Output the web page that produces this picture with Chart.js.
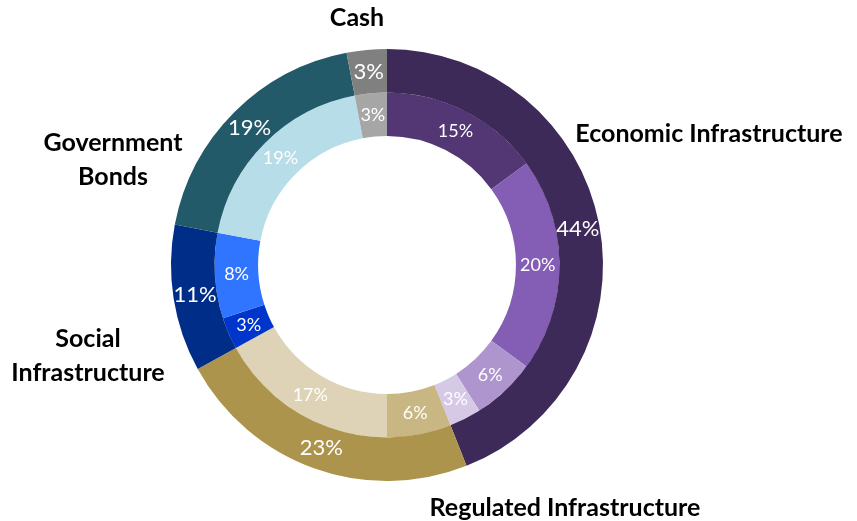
<!DOCTYPE html>
<html>
<head>
<meta charset="utf-8">
<script src="https://cdn.jsdelivr.net/npm/chart.js@4/dist/chart.umd.min.js"></script>
<style>
  html, body { margin: 0; padding: 0; background: #fff; }
  #wrap { width: 857px; height: 521px; position: relative; }
</style>
</head>
<body>
<div id="wrap"><canvas id="alloc"></canvas></div>
<script>
// Outer ring: sectors
var sectorNames = ['Economic Infrastructure', 'Regulated Infrastructure', 'Social Infrastructure', 'Government Bonds', 'Cash'];
var sectorValues = [44, 23, 11, 19, 3];
var sectorColors = ['#3d2a58', '#ad944d', '#002d87', '#225a6a', '#808080'];

// Inner ring: sub-allocations (clockwise from top)
var subValues = [15, 20, 6, 3, 6, 17, 3, 8, 19, 3];
var subColors = ['#523774', '#845db4', '#ae95cd', '#d6c9e6', '#c8b683', '#ded3b6', '#0035cc', '#2f75ff', '#b7dde8', '#a6a6a6'];

// where the sector names sit, relative to the centre of the rings
var nameLayout = [
    { dx: 322, dy: -131, lines: ['Economic Infrastructure'] },
    { dx: 178, dy: 243, lines: ['Regulated Infrastructure'] },
    { dx: -299, dy: 74, lines: ['Social', 'Infrastructure'] },
    { dx: -274, dy: -122, lines: ['Government', 'Bonds'] },
    { dx: -30, dy: -247, lines: ['Cash'] }
];

var FONT = 'Lato, "Open Sans", sans-serif';

var percentLabels = {
    id: 'percentLabels',
    afterDatasetsDraw: function(chart) {
        var ctx = chart.ctx;
        ctx.save();
        ctx.fillStyle = '#ffffff';
        ctx.textAlign = 'center';
        ctx.textBaseline = 'middle';
        chart.data.datasets.forEach(function(ds, di) {
            var meta = chart.getDatasetMeta(di);
            ctx.font = (di === 0 ? '22px ' : '18px ') + FONT;
            meta.data.forEach(function(arc, i) {
                var p = arc.tooltipPosition();
                ctx.fillText(ds.data[i] + '%', p.x, p.y);
            });
        });
        ctx.restore();
    }
};

var sectorNamesPlugin = {
    id: 'sectorNames',
    afterDraw: function(chart) {
        var ctx = chart.ctx;
        var arc = chart.getDatasetMeta(0).data[0];
        if (!arc) return;
        ctx.save();
        ctx.fillStyle = '#000000';
        ctx.font = 'bold 25px ' + FONT;
        ctx.textAlign = 'center';
        ctx.textBaseline = 'middle';
        nameLayout.forEach(function(item) {
            item.lines.forEach(function(line, li) {
                ctx.fillText(line, arc.x + item.dx, arc.y + item.dy + li * 34);
            });
        });
        ctx.restore();
    }
};

new Chart(document.getElementById('alloc').getContext('2d'), {
    type: 'doughnut',
    data: {
        labels: subValues.map(function(v, i) { return 'part ' + (i + 1); }),
        datasets: [{
            label: 'Sector',
            data: sectorValues,
            backgroundColor: sectorColors,
            borderWidth: 0,
            hoverBorderWidth: 0,
            hoverOffset: 0
        }, {
            label: 'Sub-allocation',
            data: subValues,
            backgroundColor: subColors,
            borderWidth: 0,
            hoverBorderWidth: 0,
            hoverOffset: 0
        }]
    },
    options: {
        responsive: true,
        maintainAspectRatio: false,
        animation: false,
        cutout: '59.7%',
        layout: {
            padding: { top: 49, bottom: 40, left: 171, right: 254 }
        },
        plugins: {
            legend: { display: false },
            tooltip: { enabled: false }
        }
    },
    plugins: [percentLabels, sectorNamesPlugin]
});
</script>
</body>
</html>
